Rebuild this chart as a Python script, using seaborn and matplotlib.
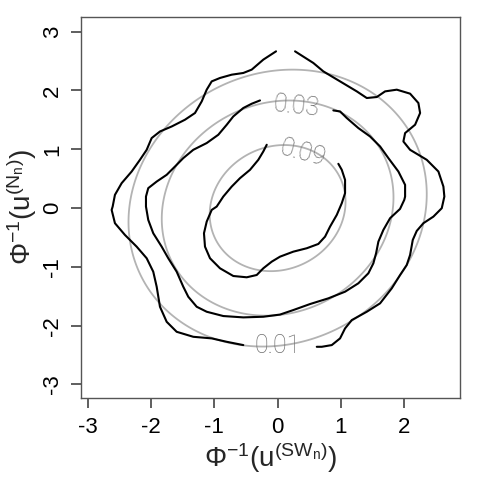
import numpy as np
import pandas as pd
import matplotlib
matplotlib.use("Agg")
import matplotlib.pyplot as plt
import seaborn as sns

# ---- data ----
levels = [0.01, 0.03, 0.09]
level_labels = ["0.01", "0.03", "0.09"]
rho = 0.1  # parametric (gray) bivariate normal correlation

# empirical contour 0.01 (two pieces, gaps at labels)
outer_a_x = [0.275, 0.564, 0.722, 0.986, 1.250, 1.408, 1.566, 1.697, 1.882, 2.092, 2.223, 2.250,
             2.171, 2.013, 1.986, 2.092, 2.355, 2.539, 2.618, 2.633, 2.592, 2.460, 2.302, 2.197,
             2.134, 2.092, 2.039, 1.934, 1.802, 1.618, 1.408, 1.171, 1.065, 0.986, 0.855, 0.697, 0.618]
outer_a_y = [2.666, 2.468, 2.325, 2.155, 1.985, 1.872, 1.889, 1.985, 2.014, 1.946, 1.787, 1.617,
             1.418, 1.276, 1.133, 0.991, 0.821, 0.622, 0.366, 0.196, -0.002, -0.145, -0.257, -0.388,
             -0.542, -0.797, -0.968, -1.138, -1.365, -1.620, -1.763, -1.905, -2.046, -2.216, -2.330, -2.359, -2.359]
outer_b_x = [-0.025, -0.226, -0.409, -0.542, -0.725, -0.910, -1.041, -1.120, -1.199, -1.305, -1.463,
             -1.673, -1.858, -1.989, -2.068, -2.174, -2.305, -2.463, -2.569, -2.605, -2.621, -2.569,
             -2.411, -2.226, -2.068, -1.964, -1.910, -1.858, -1.752, -1.594, -1.332, -1.041, -0.804, -0.542]
outer_b_y = [2.666, 2.525, 2.355, 2.298, 2.269, 2.213, 2.155, 2.014, 1.814, 1.617, 1.503,
             1.388, 1.303, 1.191, 0.991, 0.821, 0.622, 0.424, 0.225, 0.026, -0.031, -0.257,
             -0.457, -0.656, -0.853, -1.082, -1.337, -1.678, -1.934, -2.104, -2.189, -2.216, -2.274, -2.330]

# empirical contour 0.03
middle_x = [-0.278, -0.409, -0.542, -0.700, -0.804, -0.937, -1.120, -1.332, -1.490, -1.621, -1.752,
            -1.910, -2.043, -2.079, -2.079, -2.043, -1.964, -1.831, -1.727, -1.594, -1.490, -1.411,
            -1.278, -1.120, -0.858, -0.542, -0.226, 0.038, 0.248, 0.512, 0.801, 1.065, 1.275, 1.433,
            1.512, 1.555, 1.591, 1.670, 1.776, 1.933, 2.000, 2.013, 2.013, 1.907, 1.749, 1.618, 1.460,
            1.275, 1.092, 0.986, 0.880]
middle_y = [1.831, 1.775, 1.702, 1.559, 1.417, 1.247, 1.106, 0.991, 0.850, 0.707, 0.566,
            0.451, 0.339, 0.196, 0.026, -0.201, -0.428, -0.656, -0.853, -1.082, -1.337, -1.508,
            -1.678, -1.763, -1.836, -1.859, -1.848, -1.811, -1.734, -1.632, -1.535, -1.422, -1.279, -1.109,
            -0.939, -0.768, -0.571, -0.371, -0.172, -0.014, 0.140, 0.196, 0.395, 0.622, 0.850, 1.048, 1.218,
            1.361, 1.532, 1.644, 1.661]

# empirical contour 0.09
inner_x = [-0.172, -0.226, -0.305, -0.436, -0.594, -0.725, -0.858, -0.962, -1.041, -1.120, -1.163,
           -1.147, -1.068, -0.910, -0.700, -0.488, -0.330, -0.226, -0.093, 0.038, 0.248, 0.460,
           0.643, 0.749, 0.828, 0.934, 1.013, 1.065, 1.065, 1.013, 0.959]
inner_y = [1.077, 0.963, 0.821, 0.651, 0.509, 0.366, 0.196, 0.026, -0.031, -0.230, -0.428,
           -0.656, -0.853, -1.024, -1.155, -1.177, -1.138, -1.024, -0.911, -0.826, -0.741, -0.683,
           -0.610, -0.486, -0.315, -0.116, 0.083, 0.254, 0.480, 0.651, 0.753]

label_x = [0.0, 0.29, 0.39]
label_y = [-2.35, 1.73, 0.93]
label_rot = [0, -6, -15]

xticks = [-3, -2, -1, 0, 1, 2]
yticks = [-3, -2, -1, 0, 1, 2, 3]

# ---- style ----
sns.set_style("white")
plt.rcParams["font.family"] = ["Liberation Sans", "DejaVu Sans"]
plt.rcParams["mathtext.fontset"] = "custom"
plt.rcParams["mathtext.rm"] = "Liberation Sans"
plt.rcParams["mathtext.it"] = "Liberation Sans"
plt.rcParams["mathtext.bf"] = "Liberation Sans:bold"

fig = plt.figure(figsize=(4.8, 4.8), dpi=100)
ax = fig.add_axes([81 / 480, 82 / 480, 379 / 480, 381 / 480])

# parametric (gray) contours
g = np.linspace(-3.6, 3.6, 361)
X, Y = np.meshgrid(g, g)
Z = np.exp(-(X**2 - 2 * rho * X * Y + Y**2) / (2 * (1 - rho**2))) / (2 * np.pi * np.sqrt(1 - rho**2))
ax.contour(X, Y, Z, levels=levels, colors="#b3b3b3", linewidths=1.3)

# empirical (black) contours
for xs, ys in [(outer_a_x, outer_a_y), (outer_b_x, outer_b_y), (middle_x, middle_y), (inner_x, inner_y)]:
    df = pd.DataFrame({"x": xs, "y": ys})
    sns.lineplot(data=df, x="x", y="y", sort=False, estimator=None, color="black",
                 linewidth=1.5, ax=ax)

for lx, ly, lr, lt in zip(label_x, label_y, label_rot, level_labels):
    ax.text(lx, ly, lt, color="#6e6e6e", fontsize=18, rotation=lr, ha="center", va="center",
            family=["Roboto", "DejaVu Sans"], fontweight="light", rotation_mode="anchor")

ax.set_xlim(-3.105, 2.88)
ax.set_ylim(-3.23, 3.25)
ax.set_xticks(xticks)
ax.set_yticks(yticks)
ax.set_xticklabels([str(t) for t in xticks])
ax.set_yticklabels([str(t) for t in yticks])
ax.tick_params(direction="out", length=7.5, width=1.1, colors="#333333", labelcolor="black",
               labelsize=16, pad=6)
ax.tick_params(axis="both", which="both", bottom=True, left=True)
plt.setp(ax.get_yticklabels(), rotation=90, va="center", ha="center")
ax.tick_params(axis="y", pad=13)

for s in ax.spines.values():
    s.set_color("#555555")
    s.set_linewidth(1.0)

ax.set_xlabel(r"$\Phi^{-1}(\mathrm{u}^{(\mathrm{SW_n})})$", fontsize=20, labelpad=2)
ax.set_ylabel(r"$\Phi^{-1}(\mathrm{u}^{(\mathrm{N_n})})$", fontsize=20, labelpad=2)

fig.savefig("out.png", dpi=100)
